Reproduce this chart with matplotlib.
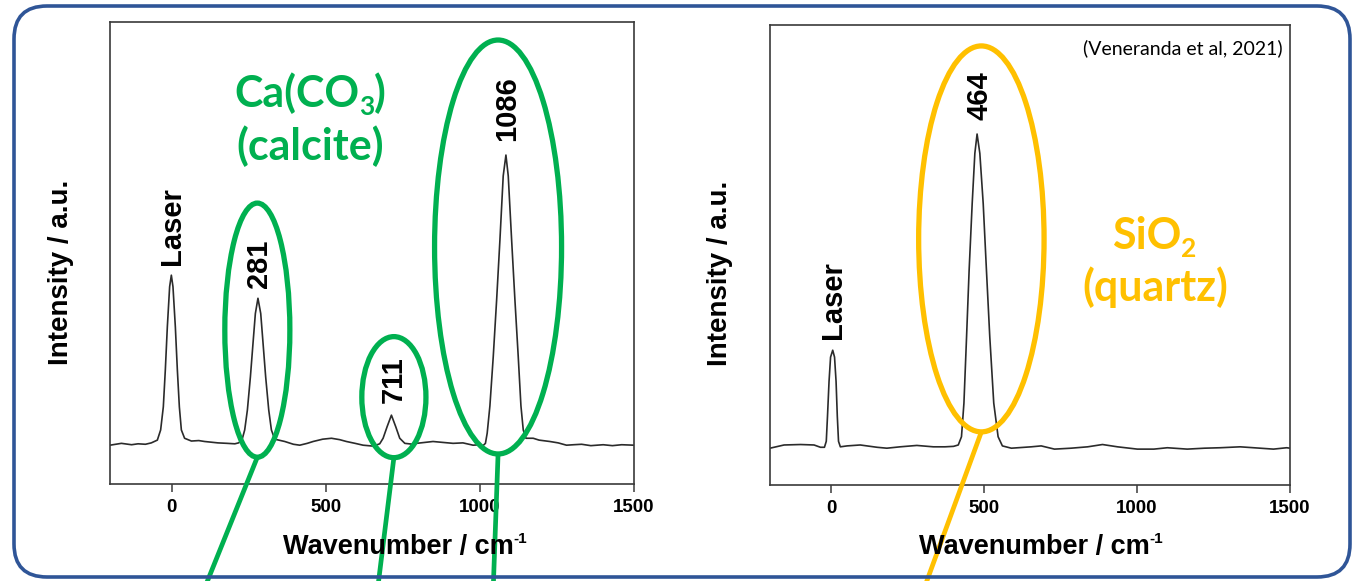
import matplotlib
matplotlib.use("Agg")
import matplotlib.pyplot as plt
from matplotlib.patches import Ellipse, FancyBboxPatch
from matplotlib.lines import Line2D
from matplotlib.transforms import IdentityTransform

# ---------------- data ----------------
calcite_wn = [-200, -163, -130, -109, -85, -66, -46.4, -35.7, -27, -20.5, -14, -6.5, -1,
              4.3, 12, 18.5, 25, 31.5, 42, 64, 88, 107, 150, 180, 205, 217, 228, 237,
              245.7, 255.5, 264, 271.6, 280, 289, 296.5, 305, 315, 323.6, 334.4, 367,
              395, 415.6, 440, 459, 490, 518.5, 545, 567, 595, 621, 654, 675, 686, 699,
              713, 727, 740, 756.5, 783, 794.5, 848, 880, 913, 945, 978, 1000, 1010,
              1018, 1023.7, 1032.5, 1043.4, 1054.3, 1065, 1075.7, 1084.5, 1092, 1103,
              1113.7, 1124.4, 1133.2, 1140.7, 1149.4, 1173, 1192, 1227, 1254, 1281,
              1304, 1330, 1360, 1400, 1430, 1460, 1500]
calcite_int = [8.4, 8.8, 8.5, 8.7, 8.6, 8.9, 9.5, 11.7, 16.7, 24.7, 34.0, 42.7, 45.2,
               42.7, 34.0, 24.7, 16.7, 11.7, 9.9, 9.3, 9.4, 9.2, 8.9, 8.8, 8.7, 8.9, 9.5, 11.7,
               16.0, 23.2, 30.5, 36.9, 40.2, 36.9, 30.5, 23.2, 16.0, 11.7, 9.7, 9.2,
               8.6, 8.4, 8.8, 9.2, 9.7, 9.9, 9.6, 9.2, 8.8, 8.4, 8.2, 8.7, 9.9, 12.4,
               14.9, 12.4, 9.9, 8.8, 8.6, 8.8, 9.2, 9.0, 8.8, 8.9, 8.4, 8.5, 8.3,
               8.8, 11.0, 16.9, 27.6, 39.8, 52.8, 66.7, 71.2, 66.7, 52.8,
               39.8, 27.6, 16.9, 11.7, 9.9, 9.9, 9.5, 9.2, 8.9, 8.4,
               8.5, 8.6, 8.3, 8.5, 8.3, 8.5, 8.4]

quartz_wn = [-200, -154, -100, -56, -35, -22, -16, -12, -7, -2, 5, 11, 16, 20, 24,
             30, 52, 95, 150, 182, 225.5, 280, 334, 372, 400, 415.5, 426, 434, 442.6,
             451, 461, 469.7, 477, 486, 497, 507.6, 518.5, 531.5, 545.7, 559.7, 589,
             654, 686.6, 730, 784, 838.6, 887, 936, 1001, 1055, 1099, 1164, 1220, 1272,
             1337, 1381, 1446, 1489, 1500]
quartz_int = [8.0, 8.7, 8.8, 8.7, 8.2, 8.2, 9.5, 15.0, 22.5, 27.8, 29.3, 27.8, 22.5, 15.0, 9.5,
              8.3, 8.5, 8.7, 8.2, 8.0, 8.3, 8.6, 8.3, 8.3, 8.4, 8.7, 10.5, 17.8, 32.2,
              46.7, 61.2, 72.1, 76.3, 72.1, 61.2, 46.7, 32.2, 17.8, 10.5, 8.5, 8.0,
              8.3, 8.5, 7.8, 8.0, 8.3, 8.8, 8.3, 7.8, 7.8, 8.1, 7.8, 8.0, 8.1,
              8.3, 8.1, 7.8, 8.1, 8.0]

x_ticks = [0, 500, 1000, 1500]
x_tick_labels = ['0', '500', '1000', '1500']

calcite_peak_labels = ['Laser', '281', '711', '1086']
calcite_peak_pos = [0, 285, 722, 1088]
calcite_peak_top = [47.5, 42.4, 17.5, 74.2]
calcite_circled = [278, 721, 1059]          # circled peaks (ellipse centres)
calcite_circle_y = [33.3, 18.8, 51.3]
calcite_circle_w = [211, 208, 412]
calcite_circle_h = [55.0, 26.2, 89.6]
calcite_line_end = [92, 664, 1042]

quartz_peak_labels = ['Laser', '464']
quartz_peak_pos = [5, 485]
quartz_peak_top = [31.7, 79.3]
quartz_circled = [491]
quartz_circle_y = [53.5]
quartz_circle_w = [410]
quartz_circle_h = [83.9]
quartz_line_end = [290]

GREEN = '#00B050'
GOLD = '#FFC000'
BLUE = '#2F5597'
LINE = '#2b2b2b'
SPINE = '#3a3a3a'

W, H = 1358, 581
fig = plt.figure(figsize=(W / 100, H / 100), dpi=100)
renderer = fig.canvas.get_renderer()

ax1 = fig.add_axes([110 / W, 97 / H, 524 / W, 462 / H])
ax2 = fig.add_axes([770 / W, 96 / H, 520 / W, 460 / H])

lab_font = dict(family='Liberation Sans', weight='bold')


def pieces_text(ax, x, y, transform, pieces, **kw):
    """Write text pieces (string, size, vertical shift in px) side by side,
    centred horizontally on (x, y); y is the baseline of the main text."""
    px, py = transform.transform((x, y))
    arts = []
    widths = []
    for s, size, dy in pieces:
        t = fig.text(0, 0, s, fontsize=size, transform=IdentityTransform(),
                     ha='left', va='baseline', **kw)
        widths.append(t.get_window_extent(renderer).width)
        arts.append(t)
    cur = px - sum(widths) / 2
    for t, w, (s, size, dy) in zip(arts, widths, pieces):
        t.set_position((cur, py + dy))
        cur += w
    return arts


def style(ax):
    ax.set_xlim(-200, 1500)
    ax.set_ylim(0, 100)
    ax.set_yticks([])
    ax.set_xticks(x_ticks)
    ax.set_xticklabels(x_tick_labels, fontsize=13.5, **lab_font)
    ax.tick_params(axis='x', direction='out', length=6, width=1.1, color=SPINE, pad=5)
    for s in ax.spines.values():
        s.set_color(SPINE)
        s.set_linewidth(1.2)


style(ax1)
style(ax2)

ax1.plot(calcite_wn, calcite_int, color=LINE, lw=1.2)
ax2.plot(quartz_wn, quartz_int, color=LINE, lw=1.2)

# axis labels (x label with small raised "-1")
xl_pieces = [('Wavenumber / cm', 19.5, 0), ('-1', 11, 11)]
pieces_text(ax1, 0.563, -0.152, ax1.transAxes, xl_pieces, color='black', **lab_font)
pieces_text(ax2, 0.521, -0.151, ax2.transAxes, xl_pieces, color='black', **lab_font)
ax1.text(-0.0926, 0.459, 'Intensity / a.u.', transform=ax1.transAxes, rotation=90,
         ha='center', va='center', fontsize=20, **lab_font)
ax2.text(-0.096, 0.461, 'Intensity / a.u.', transform=ax2.transAxes, rotation=90,
         ha='center', va='center', fontsize=20, **lab_font)

# peak labels
for lab, x, y in zip(calcite_peak_labels, calcite_peak_pos, calcite_peak_top):
    ax1.text(x, y, lab, rotation=90, ha='center', va='bottom', fontsize=21, **lab_font)
for lab, x, y in zip(quartz_peak_labels, quartz_peak_pos, quartz_peak_top):
    ax2.text(x, y, lab, rotation=90, ha='center', va='bottom', fontsize=21, **lab_font)

# mineral names (with lowered subscripts)
mfont = dict(family='Lato', weight='bold')
pieces_text(ax1, 449, 81.6, ax1.transData,
            [('Ca(CO', 31, 0), ('3', 19, -8), (')', 31, 0)], color=GREEN, **mfont)
ax1.text(448, 73.2, '(calcite)', color=GREEN, ha='center', va='center', fontsize=31, **mfont)
pieces_text(ax2, 1057, 51.4, ax2.transData,
            [('SiO', 31, 0), ('2', 19, -8)], color=GOLD, **mfont)
ax2.text(1061, 43, '(quartz)', color=GOLD, ha='center', va='center', fontsize=31, **mfont)

ax2.text(0.985, 0.95, '(Veneranda et al, 2021)', transform=ax2.transAxes, ha='right',
         va='center', fontsize=14, family='Lato')

# ellipses and leader lines
for cx, cy, w, h, xe in zip(calcite_circled, calcite_circle_y, calcite_circle_w,
                            calcite_circle_h, calcite_line_end):
    ax1.add_patch(Ellipse((cx, cy), w, h, fill=False, ec=GREEN, lw=3.8, clip_on=False, zorder=5))
    ax1.add_line(Line2D([cx, xe], [cy - h / 2, -25], color=GREEN, lw=3.4, clip_on=False,
                        zorder=5, solid_capstyle='butt'))
for cx, cy, w, h, xe in zip(quartz_circled, quartz_circle_y, quartz_circle_w,
                            quartz_circle_h, quartz_line_end):
    ax2.add_patch(Ellipse((cx, cy), w, h, fill=False, ec=GOLD, lw=3.8, clip_on=False, zorder=5))
    ax2.add_line(Line2D([cx, xe], [cy - h / 2, -25], color=GOLD, lw=3.4, clip_on=False,
                        zorder=5, solid_capstyle='butt'))

# rounded frame on top
ov = fig.add_axes([0, 0, 1, 1], zorder=10)
ov.set_xlim(0, W)
ov.set_ylim(H, 0)
ov.axis('off')
ov.patch.set_alpha(0)
ov.add_patch(FancyBboxPatch((14 + 33, 6 + 33), 1336 - 66, 571 - 66,
                            boxstyle='round,pad=33', fill=False, ec=BLUE, lw=2.6))

fig.savefig('out.png', dpi=100)
